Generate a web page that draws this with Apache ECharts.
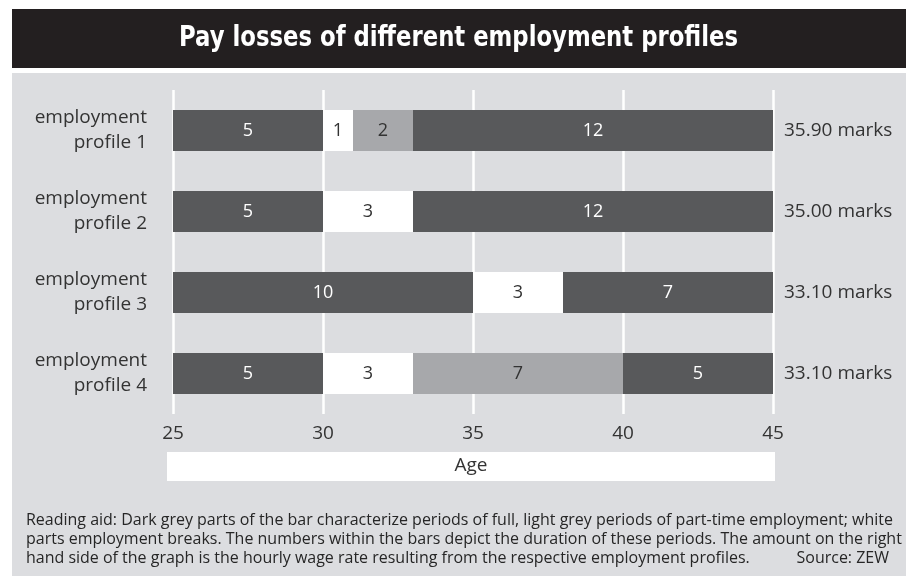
<!DOCTYPE html>
<html><head><meta charset="utf-8">
<script src="https://cdn.jsdelivr.net/npm/echarts@6/dist/echarts.min.js"></script>
<style>html,body{margin:0;padding:0;background:#fff}#c{width:911px;height:577px}</style>
</head><body><div id="c"></div>
<script>
const profiles = ['employment\nprofile 1','employment\nprofile 2','employment\nprofile 3','employment\nprofile 4'];
const startAge = [25,25,25,25];
const seg1 = [5,5,10,5];
const seg1Type = ['full','full','full','full'];
const seg2 = [1,3,3,3];
const seg2Type = ['break','break','break','break'];
const seg3 = [2,12,7,7];
const seg3Type = ['part','full','full','part'];
const seg4 = [12,null,null,5];
const seg4Type = ['full',null,null,'full'];
const wages = ['35.90','35.00','33.10','33.10'];
const ageTicks = [25,30,35,40,45];
const titleText = 'Pay losses of different employment profiles';
const footerLines = [
  'Reading aid: Dark grey parts of the bar characterize periods of full, light grey periods of part-time employment; white',
  'parts employment breaks. The numbers within the bars depict the duration of these periods. The amount on the right',
  'hand side of the graph is the hourly wage rate resulting from the respective employment profiles.'
];
const sourceText = 'Source: ZEW';

const fillColor = {full:'#58595b', part:'#a7a8ab', break:'#ffffff'};
const textColor = {full:'#ffffff', part:'#333333', break:'#333333'};
const FONT = '"Open Sans", "Noto Sans", sans-serif';
const TITLE_FONT = 'bold 28px "DejaVu Sans", sans-serif';
const FOOT_FONT = '16px "Open Sans", "Noto Sans", sans-serif';

const ctx = document.createElement('canvas').getContext('2d');
function measure(t, f){ ctx.font = f; return ctx.measureText(t).width; }
const titleScale = 559 / measure(titleText, TITLE_FONT);
const footScale = 867 / measure(footerLines[0], FOOT_FONT);

function segSeries(vals, types){
  return {
    type:'bar', stack:'s', barWidth:41, silent:true,
    data: vals.map((v,i)=> v==null ? null : {
      value:v,
      itemStyle:{color:fillColor[types[i]]},
      label:{show:true, position:'inside', color:textColor[types[i]], fontSize:18, fontFamily:FONT}
    })
  };
}

const footGraphics = footerLines.map((t,i)=>({
  type:'text', x:26, y:520 + i*19, scaleX:footScale,
  style:{text:t, fill:'#262626', font:FOOT_FONT, textVerticalAlign:'middle'}
}));

const chart = echarts.init(document.getElementById('c'), null, {renderer:'canvas'});
chart.setOption({
  backgroundColor:'#ffffff',
  animation:false,
  graphic:[
    {type:'rect', shape:{x:12,y:9,width:894,height:59}, style:{fill:'#231f20'}, z:-10},
    {type:'rect', shape:{x:12,y:73,width:894,height:503}, style:{fill:'#dcdde0'}, z:-10},
    {type:'text', x:458.5, y:39, scaleX:titleScale, style:{text:titleText, fill:'#ffffff',
      font:TITLE_FONT, textAlign:'center', textVerticalAlign:'middle'}},
    {type:'rect', shape:{x:167,y:452,width:608,height:29}, style:{fill:'#ffffff'}, z:-5},
    {type:'text', x:471, y:466, style:{text:'Age', fill:'#333333', font:'19px '+FONT, textAlign:'center', textVerticalAlign:'middle'}},
    ...footGraphics,
    {type:'text', x:889, y:558, scaleX:footScale, style:{text:sourceText, fill:'#262626', font:FOOT_FONT, textAlign:'right', textVerticalAlign:'middle'}}
  ],
  grid:{left:173, width:600, top:90, height:324},
  xAxis:{
    type:'value', min:ageTicks[0], max:ageTicks[ageTicks.length-1], interval:5,
    axisLine:{show:false}, axisTick:{show:false},
    axisLabel:{color:'#333333', fontSize:19, fontFamily:FONT, margin:10},
    splitLine:{show:true, lineStyle:{color:'#ffffff', width:2.5}}
  },
  yAxis:[
    {type:'category', data:profiles, inverse:true,
      axisLine:{show:false}, axisTick:{show:false}, splitLine:{show:false},
      axisLabel:{color:'#333333', fontSize:19, fontFamily:FONT, lineHeight:25, margin:26, align:'right', padding:[0,0,3,0]}},
    {type:'category', data:wages.map(w=>w+' marks'), inverse:true, position:'right',
      axisLine:{show:false}, axisTick:{show:false}, splitLine:{show:false},
      axisLabel:{color:'#333333', fontSize:19, fontFamily:FONT, margin:11, align:'left', padding:[0,0,3,0]}}
  ],
  series:[
    {type:'bar', stack:'s', barWidth:41, silent:true, data:startAge, itemStyle:{color:'rgba(0,0,0,0)'}},
    segSeries(seg1, seg1Type),
    segSeries(seg2, seg2Type),
    segSeries(seg3, seg3Type),
    segSeries(seg4, seg4Type)
  ]
});
</script></body></html>
